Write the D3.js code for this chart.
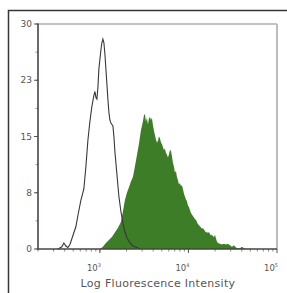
<!DOCTYPE html>
<html>
<head>
<meta charset="utf-8">
<script src="https://cdn.jsdelivr.net/npm/d3@7"></script>
<style>
  body { margin: 0; background: #fff; }
  svg text { font-family: "DejaVu Sans", sans-serif; fill: #595555; }
</style>
</head>
<body>
<svg id="chart" width="287" height="293"></svg>
<script>
// isotype control (open black trace)
var ctrlIntensity = [336, 372, 392, 413, 435, 459, 496, 536, 565, 610, 659, 695, 732, 771, 812, 856, 879, 902, 925, 949, 974,
  1026, 1053, 1081, 1110, 1139, 1169, 1200, 1231, 1264, 1297, 1331, 1367, 1403, 1440, 1477, 1556, 1639, 1727, 1819, 1916,
  2019, 2183, 2360, 2618, 2832];
var ctrlCount = [0, 0.3, 0.8, 0.4, 0.2, 0.6, 1.8, 3, 4.5, 6.5, 8, 11, 14.5, 17, 19, 20.5, 21, 20.2, 20, 21.5, 24,
  26.5, 27.5, 28, 27.5, 26, 24, 22, 20, 18.2, 17.2, 16.8, 16.6, 16.4, 15, 13, 10, 7, 5, 3.5, 2.3,
  1.5, 0.8, 0.4, 0.2, 0];

// stained sample (green filled)
var stainIntensity = [1000, 1081, 1169, 1264, 1367, 1477, 1597, 1727, 1819, 1916, 2019, 2126, 2240, 2360, 2486, 2618, 2758,
  2905, 3061, 3141, 3224, 3309, 3396, 3486, 3578, 3672, 3769, 3868, 3970, 4075, 4182, 4292, 4406, 4522, 4641,
  4763, 4889, 5018, 5150, 5286, 5425, 5568, 5715, 5865, 6020, 6178, 6341, 6508, 6680, 6856, 7036, 7222, 7412,
  7607, 7808, 8013, 8225, 8441, 8664, 8892, 9126, 9367, 9613, 9867, 10127, 10394, 10668, 10949, 11237, 11533,
  11837, 12149, 12470, 12798, 13135, 13482, 13837, 14202, 14576, 14960, 15355, 15759, 16175, 16601, 17039,
  17488, 17949, 18422, 18908, 19406, 19918, 20443, 20982, 21535, 22687, 23900, 25177, 26524, 27942, 29436,
  31010, 32668, 34415, 36254, 38193, 40236, 42387, 44653, 49555, 57790];
var stainCount = [0, 0.3, 0.8, 1.2, 1.6, 2.2, 2.8, 3.6, 5, 6.5, 7.5, 8.2, 9, 9.6, 11, 12.5, 14,
  15.8, 17, 17.8, 18, 17, 17.5, 16.6, 17.4, 17.6, 17.2, 17.5, 16.5, 15.8, 15.2, 14.6, 14.2, 14.4, 15,
  14.8, 14.2, 14, 13.6, 13.2, 13.4, 12.8, 12.6, 12.2, 12.6, 13.2, 13.1, 12.4, 11.5, 11, 10.2, 10.4, 9.6,
  9.2, 8.6, 8.8, 8.4, 8.5, 8, 7.4, 7, 6.6, 6.4, 5.8, 5.6, 5.2, 4.8, 4.6, 4.4,
  4.2, 4, 3.9, 3.6, 3.3, 3.2, 3, 2.9, 2.7, 2.8, 2.6, 2.4, 2.2, 2.3, 2.1, 2.3,
  2, 1.8, 1.9, 1.7, 1.6, 1.9, 1.4, 1, 0.8, 0.7, 0.6, 0.7, 0.6, 0.7, 0.5,
  0.3, 0.5, 0.2, 0.1, 0.1, 0.3, 0.1, 0.05, 0.05, 0];

var yTicks = [0, 7.5, 15, 22.5, 30];
var yTickLabels = ["0", "8", "15", "23", "30"];
var xDecades = [3, 4, 5];

var svg = d3.select("#chart");
var pl = 38, pr = 277, pt = 24, pb = 249;

var x = d3.scaleLog().domain([200, 100000]).range([pl, pr]);
var y = d3.scaleLinear().domain([0, 30]).range([pb, pt]);

// outer frame
svg.append("path").attr("d", "M8.5,293V10.5H287")
  .attr("fill", "none").attr("stroke", "#3a3434").attr("stroke-width", 1.5);

// plot frame top / right
svg.append("line").attr("x1", pl).attr("x2", pr).attr("y1", pt).attr("y2", pt)
  .attr("stroke", "#8a8585").attr("stroke-width", 1.2);
svg.append("line").attr("x1", pr).attr("x2", pr).attr("y1", pt).attr("y2", pb)
  .attr("stroke", "#bdbdbd").attr("stroke-width", 2);

// stained histogram
var area = d3.area()
  .x(function(d) { return x(d[0]); })
  .y0(y(0))
  .y1(function(d) { return y(d[1]); });
svg.append("path")
  .datum(d3.zip(stainIntensity, stainCount))
  .attr("d", area)
  .attr("fill", "#3d7d27");

// control histogram
var line = d3.line()
  .x(function(d) { return x(d[0]); })
  .y(function(d) { return y(d[1]); });
svg.append("path")
  .datum(d3.zip(ctrlIntensity, ctrlCount))
  .attr("d", line)
  .attr("fill", "none")
  .attr("stroke", "#3a3636")
  .attr("stroke-width", 1.1);

// y axis
var yMinor = d3.range(0, 30.01, 3.75);
var yAx = svg.append("g");
yAx.selectAll(".ymin").data(yMinor).enter().append("line")
  .attr("x1", pl - 2.5).attr("x2", pl).attr("y1", function(d) { return y(d); }).attr("y2", function(d) { return y(d); })
  .attr("stroke", "#777").attr("stroke-width", 0.8);
yAx.selectAll(".ymaj").data(yTicks).enter().append("line")
  .attr("x1", pl - 4).attr("x2", pl).attr("y1", function(d) { return y(d); }).attr("y2", function(d) { return y(d); })
  .attr("stroke", "#555").attr("stroke-width", 1);
yAx.selectAll("text").data(yTicks).enter().append("text")
  .attr("x", pl - 6).attr("y", function(d) { return y(d) + 3.2; })
  .attr("text-anchor", "end").attr("font-size", 9)
  .text(function(d, i) { return yTickLabels[i]; });
svg.append("line").attr("x1", pl).attr("x2", pl).attr("y1", pt - 0.5).attr("y2", pb + 0.8)
  .attr("stroke", "#4a4444").attr("stroke-width", 1.6);

// x axis
var xMinor = [];
[2, 3, 4].forEach(function(dec) {
  for (var m = 1; m < 10; m++) {
    var v = m * Math.pow(10, dec);
    if (v >= 200 && v <= 100000) xMinor.push(v);
  }
});
var xAx = svg.append("g");
xAx.selectAll(".xmin").data(xMinor).enter().append("line")
  .attr("x1", function(d) { return x(d); }).attr("x2", function(d) { return x(d); })
  .attr("y1", pb).attr("y2", pb + 2.5)
  .attr("stroke", "#666").attr("stroke-width", 0.8);
xAx.selectAll(".xmaj").data(xDecades).enter().append("line")
  .attr("x1", function(d) { return x(Math.pow(10, d)); }).attr("x2", function(d) { return x(Math.pow(10, d)); })
  .attr("y1", pb).attr("y2", pb + 4)
  .attr("stroke", "#555").attr("stroke-width", 1);
var xl = xAx.selectAll("text").data(xDecades).enter().append("text")
  .attr("x", function(d) { return x(Math.pow(10, d)) + 1; })
  .attr("y", 271)
  .attr("text-anchor", "end").attr("font-size", 8.5);
xl.append("tspan").text("10");
xl.append("tspan").attr("dy", -4).attr("font-size", 5).text(function(d) { return d; });
svg.append("line").attr("x1", pl).attr("x2", pr).attr("y1", pb).attr("y2", pb)
  .attr("stroke", "#4a4444").attr("stroke-width", 1.6);

svg.append("text").attr("x", 158).attr("y", 287)
  .attr("text-anchor", "middle").attr("font-size", 11)
  .attr("letter-spacing", 0.3)
  .text("Log Fluorescence Intensity");
</script>
</body>
</html>
